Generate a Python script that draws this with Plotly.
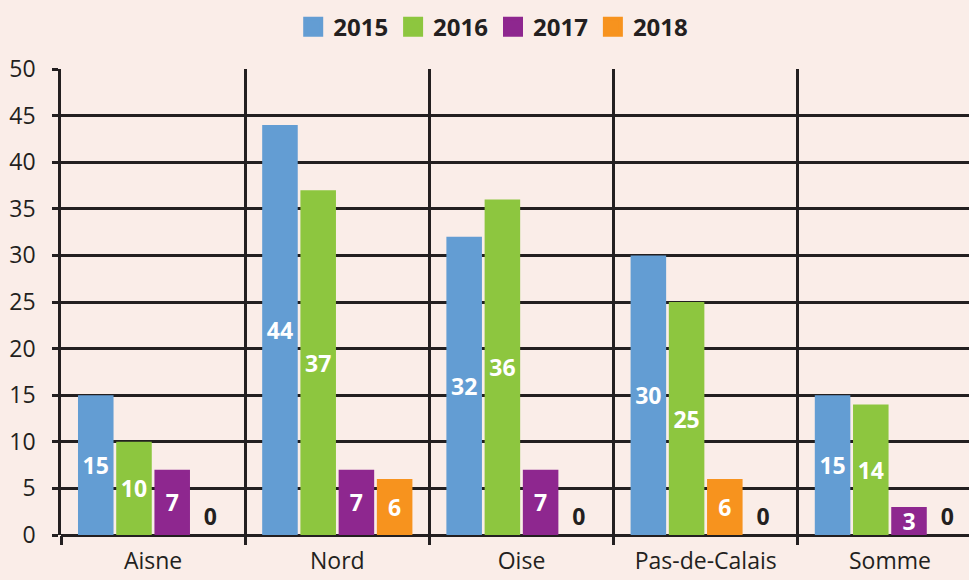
import plotly.graph_objects as go

categories = ["Aisne", "Nord", "Oise", "Pas-de-Calais", "Somme"]
years = ["2015", "2016", "2017", "2018"]
v2015 = [15, 44, 32, 30, 15]
v2016 = [10, 37, 36, 25, 14]
v2017 = [7, 7, 7, 6, 3]
v2018 = [0, 6, 0, 0, 0]
y_ticks = [0, 5, 10, 15, 20, 25, 30, 35, 40, 45, 50]

BLUE = "#639dd3"
GREEN = "#8dc63f"
PURPLE = "#8e278f"
ORANGE = "#f7931e"
INK = "#231f20"
BG = "#faede8"

series = [
    ("2015", v2015, [BLUE] * 5),
    ("2016", v2016, [GREEN] * 5),
    ("2017", v2017, [PURPLE, PURPLE, PURPLE, ORANGE, PURPLE]),
    ("2018", v2018, [ORANGE] * 5),
]
legend_colors = [BLUE, GREEN, PURPLE, ORANGE]

fig = go.Figure()
for name, vals, cols in series:
    fig.add_trace(go.Bar(
        x=categories, y=vals, name=name, showlegend=False,
        marker=dict(color=cols, line=dict(width=0)),
        texttemplate="%{y}",
        textposition=["inside" if v > 0 else "outside" for v in vals],
        insidetextanchor="middle",
        insidetextfont=dict(family="Open Sans", size=23, color="white", weight="bold"),
        outsidetextfont=dict(family="Open Sans", size=23, color=INK, weight="bold"),
        textangle=0,
        constraintext="none",
        cliponaxis=False,
        hoverinfo="skip",
    ))

for name, col in zip(years, legend_colors):
    fig.add_trace(go.Scatter(
        x=[None], y=[None], mode="markers", name=name,
        marker=dict(symbol="square", size=16, color=col, line=dict(color=col, width=4)),
    ))

fig.update_layout(
    width=969, height=580,
    paper_bgcolor=BG, plot_bgcolor=BG,
    margin=dict(l=61, r=0, t=69, b=45, autoexpand=False),
    barmode="group", bargap=0.17, bargroupgap=0.07,
    font=dict(family="Open Sans", color=INK, size=22),
    legend=dict(
        orientation="h", x=0.476, xanchor="center", y=1.09, yanchor="middle",
        font=dict(family="Open Sans", size=24, color=INK, weight="bold"),
        bgcolor="rgba(0,0,0,0)", itemwidth=30, tracegroupgap=0,
    ),
    xaxis=dict(
        automargin=False,
        range=[-0.5, -0.5 + (969 - 61) / 184.2],
        tickson="boundaries", ticks="outside", ticklen=9, tickwidth=2.5, tickcolor=INK,
        showgrid=True, gridcolor=INK, gridwidth=2.5,
        showline=False, zeroline=False,
        tickfont=dict(family="Open Sans", size=23, color=INK),
        ticklabelstandoff=10,
    ),
    yaxis=dict(
        automargin=False,
        range=[0, 50], tickvals=y_ticks,
        showgrid=True, gridcolor=INK, gridwidth=2.5,
        showline=True, linecolor=INK, linewidth=2.5,
        zeroline=True, zerolinecolor=INK, zerolinewidth=2.5,
        ticks="outside", ticklen=6, tickwidth=2.5, tickcolor=INK,
        tickfont=dict(family="Open Sans", size=23, color=INK),
        ticklabelstandoff=12,
    ),
)

fig.write_html(
    "out.html",
    config={"displayModeBar": False},
    post_script="document.body.style.margin='0';document.body.style.overflow='hidden';",
)
